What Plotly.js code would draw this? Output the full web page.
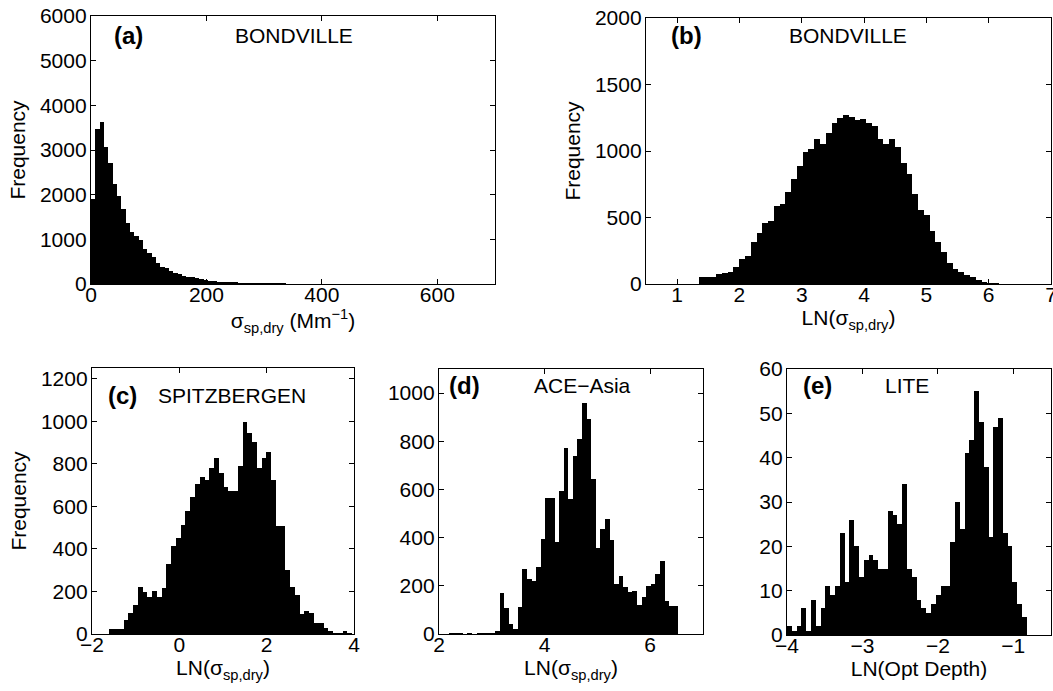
<!DOCTYPE html>
<html>
<head>
<meta charset="utf-8">
<script src="https://cdn.plot.ly/plotly-3.0.1.min.js"></script>
<style>html,body{margin:0;padding:0;background:#fff;}#chart{width:1053px;height:691px;}</style>
</head>
<body>
<div id="chart"></div>
<script>
// (a) BONDVILLE, sigma_sp,dry (Mm^-1), bin width 7.5
const bondvilleSigma = [1900, 3460, 3620, 3070, 2700, 2250, 1970, 1690, 1370, 1170,
  1075, 985, 775, 690, 610, 460, 390, 350, 300, 255,
  225, 185, 165, 155, 140, 105, 90, 75, 60, 50,
  45, 40, 38, 35, 32, 30, 27, 25, 22, 20,
  18, 16, 15, 13, 12, 11, 10, 9, 8, 8,
  7, 6, 6, 5, 5, 4, 4, 4, 3, 3,
  3, 3, 2, 2, 2, 2, 2, 2, 2, 1,
  1, 1, 1, 1, 1, 1, 1, 1, 1, 1,
  1, 1, 1, 1, 1, 1, 1, 1, 1, 1, 1, 1];
// (b) BONDVILLE, LN(sigma)
const bondvilleLn = [50, 55, 55, 73, 85, 93, 130, 185, 210, 318,
  381, 456, 474, 586, 601, 694, 792, 887, 992, 1012,
  1088, 1053, 1138, 1208, 1246, 1271, 1258, 1233, 1238, 1213,
  1188, 1088, 1053, 1088, 1033, 912, 825, 677, 556, 519,
  398, 318, 238, 160, 113, 90, 68, 50, 30, 18, 10, 5, 2];
// (c) SPITZBERGEN
const spitzbergenLn = [25, 22, 22, 66, 97, 134, 220, 197, 173, 203,
  173, 215, 329, 412, 451, 510, 580, 645, 706, 739,
  726, 778, 827, 755, 692, 671, 671, 790, 997, 946,
  902, 781, 829, 855, 723, 506, 506, 302, 220, 184,
  93, 108, 100, 50, 50, 27, 16, 6, 6, 14, 3];
// (d) ACE-Asia
const aceAsiaLn = [3, 4, 3, 2, 3, 2, 4, 3, 5, 6,
  14, 169, 106, 40, 19, 114, 269, 228, 218, 278,
  394, 564, 564, 382, 592, 774, 561, 739, 808, 958,
  892, 644, 357, 436, 478, 389, 208, 242, 194, 174,
  179, 121, 153, 201, 206, 249, 301, 138, 115, 115];
// (e) LITE, LN(Opt Depth)
const liteLnOptDepth = [2, 1, 2, 6, 1, 8, 2, 6, 11, 9,
  11, 23, 12, 26, 20, 13, 17, 18, 17, 15,
  15, 28, 27, 25, 34, 15, 13, 8, 6, 5,
  7, 9, 11, 11, 21, 30, 24, 41, 44, 55,
  48, 38, 22, 47, 49, 23, 20, 12, 7, 4];

const panelLabels = ['(a)', '(b)', '(c)', '(d)', '(e)'];
const siteNames = ['BONDVILLE', 'BONDVILLE', 'SPITZBERGEN', 'ACE−Asia', 'LITE'];

const FONT = '"Liberation Sans", Arial, Helvetica, sans-serif';
const W = 1053, H = 691;
const px = v => v / W;
const py = v => 1 - v / H;

function bars(y, x0, dx, xa, ya) {
  return {type: 'bar', y: y, x0: x0, dx: dx, width: dx, xaxis: xa, yaxis: ya,
    marker: {color: '#000', line: {width: 0}}, hoverinfo: 'x+y', showlegend: false};
}

const data = [
  bars(bondvilleSigma, 3.75, 7.5, 'x', 'y'),
  bars(bondvilleLn, 1.394, 0.0926, 'x2', 'y2'),
  bars(spitzbergenLn, -1.549, 0.109, 'x3', 'y3'),
  bars(aceAsiaLn, 2.235, 0.0868, 'x4', 'y4'),
  bars(liteLnOptDepth, -3.968, 0.0636, 'x5', 'y5')
];

function ax(isX, domain, range, tickvals, anchor, title, fs) {
  const o = {domain: domain, range: range, tickvals: tickvals, anchor: anchor,
    showline: true, mirror: 'ticks', linecolor: '#000', linewidth: 1.2,
    ticks: 'inside', ticklen: 5, tickcolor: '#000', tickwidth: 1,
    ticklabelstandoff: isX ? -8 : -1,
    ticklabeloverflow: 'allow',
    showgrid: false, zeroline: false, fixedrange: true,
    tickfont: {family: FONT, size: fs, color: '#000'}};
  if (title) o.title = {text: title, font: {family: FONT, size: fs, color: '#000'}, standoff: isX ? 0 : 8};
  return o;
}

const sig = 'σ<sub>sp,dry</sub>';
const FS = 21;
const layout = {
  width: W, height: H,
  margin: {l: 0, r: 0, t: 0, b: 0},
  paper_bgcolor: '#fff', plot_bgcolor: '#fff',
  bargap: 0,
  showlegend: false,
  xaxis: ax(true, [px(91), px(495)], [0, 700], [0, 200, 400, 600], 'y', sig + ' (Mm<sup>−1</sup>)', FS),
  yaxis: ax(false, [py(284), py(16)], [0, 6000], [0, 1000, 2000, 3000, 4000, 5000, 6000], 'x', 'Frequency', FS),
  xaxis2: ax(true, [px(646), px(1051)], [0.5, 7], [1, 2, 3, 4, 5, 6, 7], 'y2', 'LN(' + sig + ')', FS),
  yaxis2: ax(false, [py(284), py(18)], [0, 2000], [0, 500, 1000, 1500, 2000], 'x2', 'Frequency', FS),
  xaxis3: ax(true, [px(92), px(354)], [-2, 4], [-2, 0, 2, 4], 'y3', 'LN(' + sig + ')', FS),
  yaxis3: ax(false, [py(634), py(368)], [0, 1250], [0, 200, 400, 600, 800, 1000, 1200], 'x3', 'Frequency', FS),
  xaxis4: ax(true, [px(439), px(703)], [2, 7], [2, 4, 6], 'y4', 'LN(' + sig + ')', FS),
  yaxis4: ax(false, [py(634), py(369)], [0, 1100], [0, 200, 400, 600, 800, 1000], 'x4', null, FS),
  xaxis5: ax(true, [px(787), px(1051)], [-4, -0.5], [-4, -3, -2, -1], 'y5', 'LN(Opt Depth)', FS),
  yaxis5: ax(false, [py(635), py(369)], [0, 60], [0, 10, 20, 30, 40, 50, 60], 'x5', null, FS),
  annotations: []
};

const labelPos = [[128, 35], [686, 35], [122, 395], [464, 385], [817, 385]];
const namePos = [[294, 35], [848, 35], [232, 395], [582, 385], [907, 385]];
for (let i = 0; i < 5; i++) {
  layout.annotations.push({xref: 'paper', yref: 'paper', x: px(labelPos[i][0]), y: py(labelPos[i][1]),
    xanchor: 'center', yanchor: 'middle', showarrow: false, text: '<b>' + panelLabels[i] + '</b>',
    font: {family: FONT, size: 24, color: '#000'}});
  layout.annotations.push({xref: 'paper', yref: 'paper', x: px(namePos[i][0]), y: py(namePos[i][1]),
    xanchor: 'center', yanchor: 'middle', showarrow: false, text: siteNames[i],
    font: {family: FONT, size: 21, color: '#000'}});
}

Plotly.newPlot('chart', data, layout, {staticPlot: true, displayModeBar: false});
</script>
</body>
</html>
